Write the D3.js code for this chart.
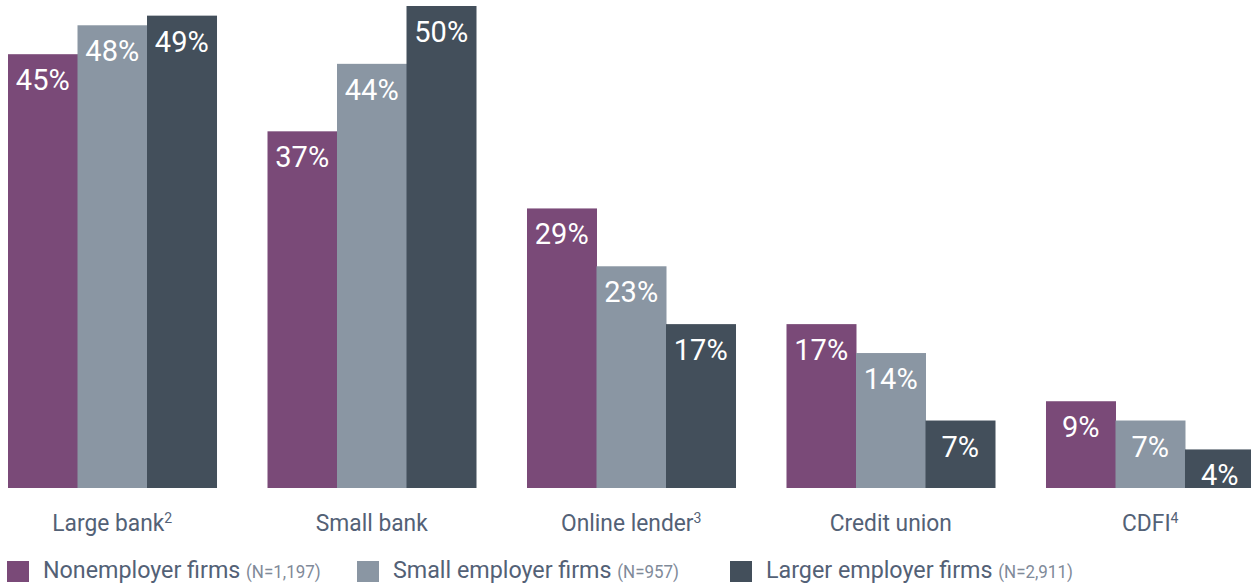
<!DOCTYPE html>
<html>
<head>
<meta charset="utf-8">
<script src="https://cdn.jsdelivr.net/npm/d3@7"></script>
<style>
  html, body { margin: 0; padding: 0; background: #ffffff; }
  svg { display: block; }
  text { font-family: Roboto, "Noto Sans", sans-serif; }
</style>
</head>
<body>
<svg id="chart" width="1251" height="585"></svg>
<script>
// Lender types and their footnote markers
const categories = ["Large bank", "Small bank", "Online lender", "Credit union", "CDFI"];
const footnotes  = ["2", "", "3", "", "4"];

// Share of firms applying to each lender type (%)
const nonemployer    = [45, 37, 29, 17, 9];
const smallEmployer  = [48, 44, 23, 14, 7];
const largerEmployer = [49, 50, 17, 7, 4];

const seriesNames = ["Nonemployer firms", "Small employer firms", "Larger employer firms"];
const seriesN     = ["(N=1,197)", "(N=957)", "(N=2,911)"];
const colors      = ["#7a4a78", "#8a96a3", "#434f5b"];

const series = [nonemployer, smallEmployer, largerEmployer];

const svg = d3.select("#chart");
const baseline = 488;

const x0 = d3.scaleBand()
  .domain(categories)
  .range([8, 1254.5])
  .paddingInner(0.1965)
  .paddingOuter(0);

const x1 = d3.scaleBand()
  .domain(d3.range(series.length))
  .range([0, x0.bandwidth()])
  .padding(0);

const y = d3.scaleLinear().domain([0, 50]).range([baseline, 6]);

const labelColor = "#536176";
const narrow = 0.97;

// Bars and their value labels
const groups = svg.append("g").selectAll("g")
  .data(categories)
  .join("g")
  .attr("transform", d => `translate(${x0(d)},0)`);

groups.each(function(cat, ci) {
  const g = d3.select(this);
  series.forEach((vals, si) => {
    const v = vals[ci];
    g.append("rect")
      .attr("x", x1(si))
      .attr("y", y(v))
      .attr("width", x1.bandwidth() + 0.5)
      .attr("height", baseline - y(v))
      .attr("fill", colors[si]);
    g.append("text")
      .attr("x", x1(si) + x1.bandwidth() / 2)
      .attr("y", y(v) + 36)
      .attr("text-anchor", "middle")
      .attr("fill", "#ffffff")
      .attr("font-size", 29)
      .text(v + "%");
  });
});

// Category labels under each group
const catLabels = svg.append("g").selectAll("text")
  .data(categories)
  .join("text")
  .attr("transform", d => `translate(${x0(d) + x0.bandwidth() / 2},531) scale(${narrow},1)`)
  .attr("text-anchor", "middle")
  .attr("fill", labelColor)
  .attr("font-size", 23.5);
catLabels.each(function(d, i) {
  const t = d3.select(this);
  t.append("tspan").text(d);
  if (footnotes[i]) {
    t.append("tspan")
      .attr("font-size", 14.5)
      .attr("dy", -8)
      .text(footnotes[i]);
  }
});

// Legend
const legendX = [7, 357, 730];
const legend = svg.append("g").selectAll("g")
  .data(seriesNames)
  .join("g")
  .attr("transform", (d, i) => `translate(${legendX[i]},0)`);

legend.append("rect")
  .attr("x", 0)
  .attr("y", 561)
  .attr("width", 22)
  .attr("height", 21)
  .attr("fill", (d, i) => colors[i]);

const legendText = legend.append("text")
  .attr("transform", `translate(36,578) scale(${narrow},1)`)
  .attr("fill", labelColor)
  .attr("font-size", 24);
legendText.append("tspan").text(d => d + " ");
legendText.append("tspan")
  .attr("font-size", 17.5)
  .attr("fill", "#7f8a99")
  .text((d, i) => seriesN[i]);
</script>
</body>
</html>
